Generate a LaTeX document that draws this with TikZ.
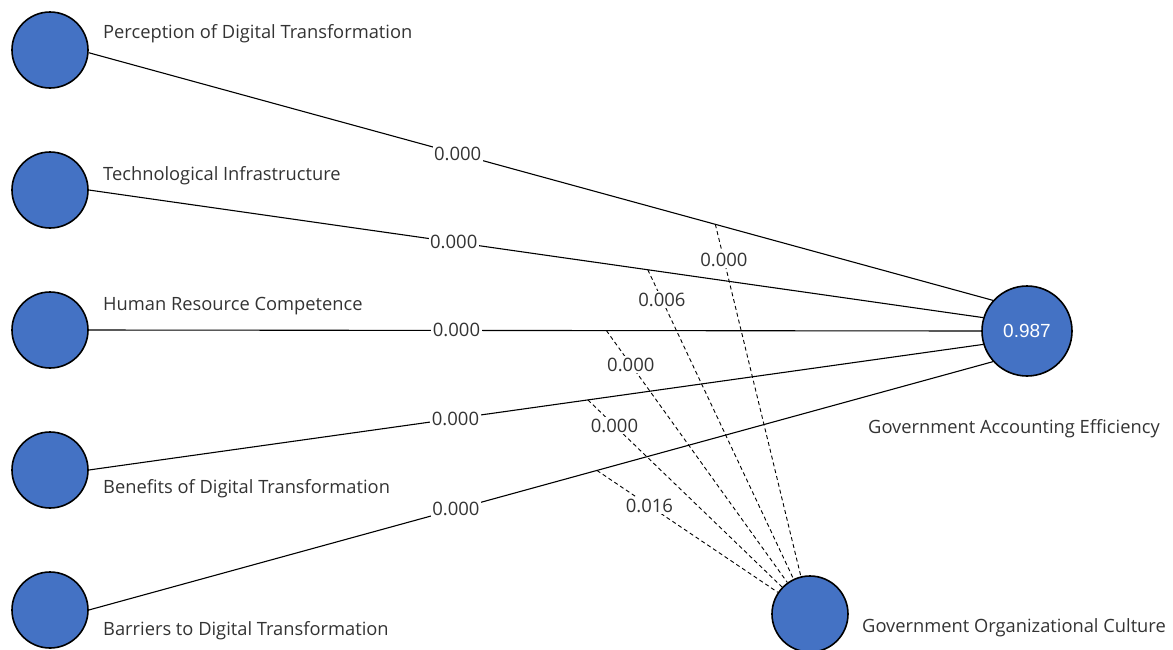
\documentclass[tikz,border=0pt]{standalone}
\usepackage{fontspec}
\setmainfont{Open Sans}
\newfontfamily\arialfont{Liberation Sans}
\definecolor{nodeblue}{RGB}{68,114,196}
\definecolor{txtgray}{RGB}{51,51,51}
\begin{document}
\begin{tikzpicture}[x=1pt,y=-1pt,
  latent/.style={circle,draw=black,line width=1.6pt,fill=nodeblue,minimum size=76pt,inner sep=0pt},
  bigl/.style={latent,minimum size=90pt},
  cname/.style={anchor=west,font=\fontsize{18.3}{21}\selectfont,text=txtgray,inner sep=0pt},
  pathln/.style={line width=1.1pt,black},
  modln/.style={line width=0.9pt,black,dash pattern=on 4pt off 3pt},
  lbl/.style={fill=white,font=\fontsize{18.5}{21}\selectfont,text=txtgray,inner sep=1.5pt}]
\useasboundingbox (0,0) rectangle (1173,649);
\node[latent] (n1) at (50,50) {};
\node[latent] (n2) at (50,190) {};
\node[latent] (n3) at (50,330) {};
\node[latent] (n4) at (50,470) {};
\node[latent] (n5) at (50,610) {};
\node[bigl,font=\arialfont\fontsize{19}{22}\selectfont,text=white] (gae) at (1027,331) {0.987};
\node[latent] (goc) at (810,614) {};
\node[cname] (t1) at (103,33.5) {Perception of Digital Transformation};
\node[cname] (t2) at (103,175.5) {Technological Infrastructure};
\node[cname] (t3) at (103,306.5) {Human Resource Competence};
\node[cname] (t4) at (103,488.5) {Benefits of Digital Transformation};
\node[cname] (t5) at (103,630.5) {Barriers to Digital Transformation};
\node[cname] (tg) at (868,428.5) {Government Accounting Efficiency};
\node[cname] (tc) at (862,627.5) {Government Organizational Culture};
\draw[pathln] (n1.-4) -- coordinate[pos=0.693] (m1) node[lbl,pos=0.408] {0.000} (gae.138);
\draw[pathln] (n2.east) -- coordinate[pos=0.625] (m2) node[lbl,pos=0.408] {0.000} (gae.163);
\draw[pathln] (n3.east) -- coordinate[pos=0.58] (m3) node[lbl,pos=0.412] {0.000} (gae.west);
\draw[pathln] (n4.east) -- coordinate[pos=0.558] (m4) node[lbl,pos=0.41] {0.000} (gae.197);
\draw[pathln] (n5.east) -- coordinate[pos=0.562] (m5) node[lbl,pos=0.406] {0.000} (gae.222);
\draw[modln] (m1) -- node[lbl,pos=0.10] {0.000} (goc);
\draw[modln] (m2) -- node[lbl,pos=0.097] {0.006} (goc);
\draw[modln] (m3) -- node[lbl,pos=0.135] {0.000} (goc);
\draw[modln] (m4) -- node[lbl,pos=0.137] {0.000} (goc);
\draw[modln] (m5) -- node[lbl,pos=0.29] {0.016} (goc);
\end{tikzpicture}
\end{document}
